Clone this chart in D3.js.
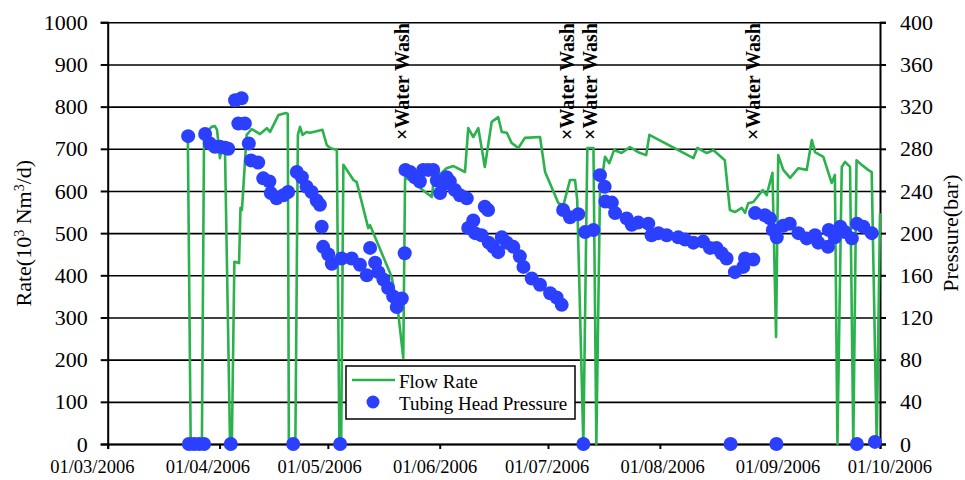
<!DOCTYPE html>
<html>
<head>
<meta charset="utf-8">
<script src="https://cdn.jsdelivr.net/npm/d3@7"></script>
<style>
  body { margin: 0; background: #fff; }
  svg text { font-family: "Liberation Serif", "Times New Roman", "DejaVu Serif", serif; fill: #000; }
</style>
</head>
<body>
<svg id="chart" width="965" height="480" font-family="Liberation Serif, Times New Roman, serif"></svg>
<script>
// days counted from 01/03/2006 (fractions = part of a day)
const flowDay = [22.2, 23.0, 26.1, 26.7, 28.8, 29.7, 30.3, 31.1, 31.6, 32.5, 33.9, 34.4, 35.1, 36.4, 36.8, 37.2,
  38.5, 39.9, 42.2, 44.1, 45.0, 47.3, 49.4, 49.9, 50.2, 52.0, 52.7, 53.3, 54.0, 55.1, 56.0, 57.0, 59.5, 60.7,
  61.6, 63.5, 64.2, 64.7, 65.3, 68.1, 69.0, 72.2, 72.7, 78.7, 80.5, 81.9, 82.4, 83.8, 87.9, 89.8, 90.7, 92.1,
  93.9, 95.8, 99.0, 99.9, 101.3, 102.7, 104.5, 106.4, 108.2, 109.2, 110.6, 111.9, 113.8, 115.6, 119.8, 121.2,
  124.9, 126.3, 128.1, 129.5, 130.1, 131.8, 132.9, 134.6, 135.4, 136.4, 137.8, 139.0, 140.3, 142.4, 144.7,
  147.0, 149.2, 150.1, 162.3, 163.4, 166.0, 167.8, 171.0, 172.4, 173.8, 175.7, 176.6, 177.5, 178.9, 181.5,
  182.6, 184.2, 185.2, 185.8, 187.2, 189.1, 191.4, 193.7, 195.1, 196.0, 198.3, 200.6, 201.5, 202.2, 203.4,
  204.3, 205.7, 206.6, 207.5, 208.9, 210.7, 211.7, 213.1, 214.0];
const flowRate = [730, 0, 0, 735, 752, 754, 745, 678, 701, 697, 0, 0, 432, 429, 560, 555,
  733, 747, 735, 749, 740, 780, 785, 783, 0, 0, 733, 752, 733, 740, 738, 740, 745, 709,
  702, 697, 0, 0, 662, 626, 621, 512, 519, 396, 311, 204, 631, 626, 598, 586, 650, 640,
  654, 659, 645, 749, 728, 749, 657, 764, 775, 740, 738, 714, 702, 726, 728, 645,
  571, 567, 626, 626, 579, 0, 702, 702, 0, 595, 681, 666, 697, 690, 704,
  692, 685, 733, 678, 702, 690, 697, 673, 555, 550, 560, 548, 571, 574, 602,
  590, 643, 254, 685, 650, 631, 654, 650, 721, 692, 681, 619, 638, 0, 657,
  669, 657, 0, 673, 662, 650, 645, 0, 547];

const thpDay = [22.3, 22.5, 23.9, 25.3, 26.7, 27.0, 28.3, 29.7, 31.1, 32.5, 33.4, 34.1, 35.3, 36.2, 37.1, 38.0,
  39.1, 39.7, 41.7, 43.1, 44.8, 45.2, 46.8, 48.7, 50.0, 51.4, 52.4, 53.8, 55.1, 56.5, 57.9, 58.8, 59.3, 59.7,
  61.1, 62.1, 64.4, 64.8, 67.6, 69.9, 71.8, 72.7, 74.1, 75.0, 76.4, 77.7, 79.1, 80.1, 81.5, 82.3, 82.5, 83.8,
  85.1, 86.5, 87.4, 88.8, 90.2, 91.2, 92.1, 93.0, 93.9, 94.8, 96.2, 97.6, 99.5, 99.9, 101.3, 101.8, 103.6,
  104.5, 105.4, 105.6, 106.8, 108.2, 109.2, 110.6, 112.4, 114.2, 115.2, 117.5, 119.8, 122.6, 124.4, 125.8,
  126.2, 128.1, 130.4, 131.8, 132.3, 134.6, 136.4, 137.7, 137.9, 139.7, 140.6, 143.8, 145.2, 147.0, 149.8,
  150.7, 152.6, 154.9, 158.1, 160.0, 162.3, 165.0, 166.9, 168.7, 170.1, 171.5, 172.6, 173.8, 176.1, 176.6,
  178.9, 179.4, 182.1, 183.5, 184.3, 185.4, 185.3, 187.2, 189.0, 191.4, 193.7, 196.0, 196.9, 199.6, 199.8,
  201.5, 203.0, 204.3, 206.2, 207.6, 207.6, 209.4, 211.7, 212.6];
const thpPressure = [292, 0, 0, 0, 0, 294, 285, 282, 282, 281, 280, 0, 326, 304, 328, 304,
  285, 269, 267, 252, 249, 238, 233, 236, 239, 0, 258, 253, 244, 239, 231, 227, 206, 187,
  180, 171, 0, 176, 176, 170, 160, 186, 172, 163, 156, 148, 140, 130, 138, 181, 260, 258,
  253, 249, 260, 260, 260, 250, 238, 246, 253, 249, 241, 236, 233, 205, 212, 200, 198,
  225, 222, 191, 187, 182, 196, 191, 187, 178, 168, 157, 151, 143, 139, 132,
  222, 215, 218, 0, 201, 203, 255, 244, 230, 229, 219, 214, 208, 210, 209,
  198, 200, 198, 196, 194, 191, 192, 186, 186, 181, 176, 0, 163, 168, 176,
  175, 219, 217, 214, 203, 196, 0, 207, 209, 200, 195, 198, 191, 187, 203,
  196, 206, 201, 195, 0, 209, 206, 200, 2];

const washDay = [81.5, 127.3, 133.7, 178.8];
const washLabel = '\u00d7Water Wash';

const rateTicks = d3.range(0, 1001, 100);
const pressureTicks = d3.range(0, 401, 40);

const serif = '"Liberation Serif", "Times New Roman", serif';
const svg = d3.select('#chart');
const plot = { left: 107.7, right: 880, top: 22.3, bottom: 444 };
const origin = Date.UTC(2006, 2, 1);
const toDate = (d) => new Date(origin + d * 864e5);

const x = d3.scaleUtc()
  .domain([new Date(Date.UTC(2006, 2, 1)), new Date(Date.UTC(2006, 9, 1))])
  .range([plot.left, plot.right]);
const yRate = d3.scaleLinear().domain([0, 1000]).range([plot.bottom, plot.top]);
const yPressure = d3.scaleLinear().domain([0, 400]).range([plot.bottom, plot.top]);

const monthTicks = d3.utcMonth.range(x.domain()[0], d3.utcDay.offset(x.domain()[1], 1));

// gridlines
svg.append('g')
  .attr('transform', `translate(${plot.left},0)`)
  .call(d3.axisLeft(yRate).tickValues(rateTicks).tickSize(-(plot.right - plot.left)).tickFormat(''))
  .call((g) => g.select('.domain').remove())
  .call((g) => g.selectAll('line').attr('stroke', '#000').attr('stroke-width', 1.6));

// left axis
const leftAxis = svg.append('g')
  .attr('transform', `translate(${plot.left},0)`)
  .call(d3.axisLeft(yRate).tickValues(rateTicks).tickSize(7).tickPadding(13).tickFormat(d3.format('d')));

// right axis
const rightAxis = svg.append('g')
  .attr('transform', `translate(${plot.right},0)`)
  .call(d3.axisRight(yPressure).tickValues(pressureTicks).tickSize(6).tickPadding(14).tickFormat(d3.format('d')));

// bottom axis
const bottomAxis = svg.append('g')
  .attr('transform', `translate(0,${plot.bottom})`)
  .call(d3.axisBottom(x).tickValues(monthTicks).tickSize(5).tickPadding(11).tickFormat(d3.utcFormat('%d/%m/%Y')));

[leftAxis, rightAxis, bottomAxis].forEach((g, i) => {
  g.attr('font-family', serif);
  g.selectAll('.domain, line').attr('stroke', '#000').attr('stroke-width', 2);
  g.selectAll('text')
    .style('font-family', serif)
    .style('font-size', i === 2 ? '18.5px' : '22px')
    .attr('fill', '#000');
});

// excel spreads the date labels a bit wider than the ticks
bottomAxis.selectAll('text').attr('dx', (d, i) => (i - 4.4) * 3.6);

// axis titles
const rateTitle = svg.append('text')
  .attr('transform', `translate(31,${(plot.top + plot.bottom) / 2}) rotate(-90)`)
  .attr('text-anchor', 'middle')
  .style('font-family', serif)
  .style('font-size', '22px');
rateTitle.append('tspan').text('Rate(10');
rateTitle.append('tspan').attr('baseline-shift', 'super').style('font-size', '14px').text('3');
rateTitle.append('tspan').text(' Nm');
rateTitle.append('tspan').attr('baseline-shift', 'super').style('font-size', '14px').text('3');
rateTitle.append('tspan').text('/d)');

svg.append('text')
  .attr('transform', `translate(958,${(plot.top + plot.bottom) / 2}) rotate(-90)`)
  .attr('text-anchor', 'middle')
  .style('font-family', serif)
  .style('font-size', '22px')
  .text('Pressure(bar)');

// flow rate line
const flow = flowDay.map((d, i) => [toDate(d), flowRate[i]]);
svg.append('path')
  .datum(flow)
  .attr('fill', 'none')
  .attr('stroke', '#2bb24c')
  .attr('stroke-width', 2.6)
  .attr('stroke-linejoin', 'round')
  .attr('d', d3.line().x((d) => x(d[0])).y((d) => yRate(d[1])));

// tubing head pressure dots
const thp = thpDay.map((d, i) => [toDate(d), thpPressure[i]]);
svg.append('g')
  .selectAll('circle')
  .data(thp)
  .join('circle')
  .attr('cx', (d) => x(d[0]))
  .attr('cy', (d) => yPressure(d[1]))
  .attr('r', 7)
  .attr('fill', '#2b40ff');

// water wash labels
svg.append('g')
  .selectAll('text')
  .data(washDay)
  .join('text')
  .attr('transform', (d) => `translate(${x(toDate(d))},140) rotate(-90)`)
  .attr('dominant-baseline', 'central')
  .style('font-family', serif)
  .style('font-size', '20px')
  .style('font-weight', 'bold')
  .text(washLabel);

// legend
const legend = svg.append('g').attr('transform', 'translate(346,366)');
legend.append('rect')
  .attr('width', 229)
  .attr('height', 53)
  .attr('fill', '#fff')
  .attr('stroke', '#000')
  .attr('stroke-width', 1.5);
legend.append('line')
  .attr('x1', 6).attr('x2', 49).attr('y1', 14).attr('y2', 14)
  .attr('stroke', '#2bb24c').attr('stroke-width', 2.6);
legend.append('circle').attr('cx', 27).attr('cy', 36).attr('r', 6.5).attr('fill', '#2b40ff');
legend.selectAll('.legendText')
  .data(['Flow Rate', 'Tubing Head Pressure'])
  .join('text')
  .attr('class', 'legendText')
  .attr('x', 53)
  .attr('y', (d, i) => 15 + i * 22)
  .attr('dominant-baseline', 'central')
  .style('font-family', serif)
  .style('font-size', '19px')
  .text((d) => d);
</script>
</body>
</html>
